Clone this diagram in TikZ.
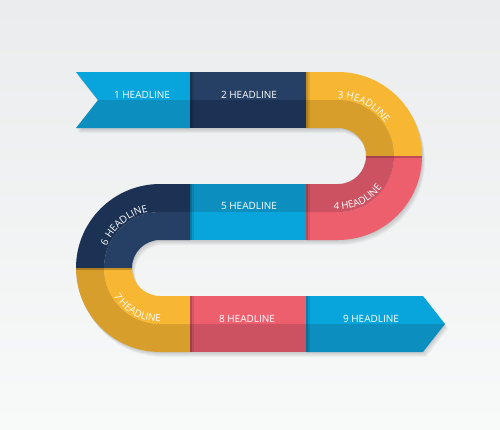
\documentclass[tikz,border=0pt]{standalone}
\usepackage{fontspec}
\setmainfont{Open Sans}
\usepackage{tikz}
\usetikzlibrary{positioning, calc, decorations.text}
\usepackage{xcolor}
\definecolor{bgtop}{HTML}{EAECED}
\definecolor{bgbot}{HTML}{F8F9F9}
\definecolor{blueL}{HTML}{08A5DC}
\definecolor{blueD}{HTML}{0C8FBE}
\definecolor{navyL}{HTML}{263F64}
\definecolor{navyD}{HTML}{1B3254}
\definecolor{yelL}{HTML}{F8B733}
\definecolor{yelD}{HTML}{D89E2B}
\definecolor{redL}{HTML}{EE5F6E}
\definecolor{redD}{HTML}{CC5261}
\newcommand{\hlfont}{\fontsize{10}{12}\selectfont}
\tikzset{headline/.style={text=white, font=\hlfont, inner sep=0pt}}
\tikzset{curved/.style={decorate, decoration={text along path, text align=center, text color=white, text={|\hlfont|#1}}}}
\tikzset{seam/.style={fill=black, opacity=#1}}

\begin{document}
\begin{tikzpicture}[x=1pt, y=1pt]
  \useasboundingbox (0,0) rectangle (500,-429);
  \shade[top color=bgtop, bottom color=bgbot] (0,0) rectangle (500,-429);
  \coordinate (rc) at (338,-156);
  \coordinate (lc) at (160,-268);

  % soft shadow under the ribbon
  \foreach \d in {1,...,5}
    \fill[black, opacity=0.035, shift={(0.6*\d,-\d)}]
      (76,-72) -- (338,-72) arc (90:-90:84) -- (160,-240) arc (90:270:28)
      -- (423,-296) -- (445,-324) -- (423,-352) -- (160,-352) arc (270:90:84)
      -- (338,-184) arc (-90:90:28) -- (76,-128) -- (98,-100) -- cycle;

  % 1
  \fill[blueL] (76,-72) -- (190,-72) -- (190,-100) -- (98,-100) -- cycle;
  \fill[blueD] (98,-100) -- (190,-100) -- (190,-128) -- (76,-128) -- cycle;
  % 2
  \fill[navyL] (190,-72) rectangle (306,-100);
  \fill[navyD] (190,-100) rectangle (306,-128);
  % 3
  \fill[yelL] (306,-72) -- (338,-72) arc (90:0:84) -- (394,-156) arc (0:90:56) -- (306,-100) -- cycle;
  \fill[yelD] (306,-100) -- (338,-100) arc (90:0:56) -- (366,-156) arc (0:90:28) -- (306,-128) -- cycle;
  % 4
  \fill[redL] (422,-156) arc (0:-90:84) -- (306,-240) -- (306,-212) -- (338,-212) arc (-90:0:56) -- cycle;
  \fill[redD] (394,-156) arc (0:-90:56) -- (306,-212) -- (306,-184) -- (338,-184) arc (-90:0:28) -- cycle;
  % 5
  \fill[blueD] (190,-184) rectangle (306,-212);
  \fill[blueL] (190,-212) rectangle (306,-240);
  % 6
  \fill[navyD] (190,-184) -- (160,-184) arc (90:180:84) -- (104,-268) arc (180:90:56) -- (190,-212) -- cycle;
  \fill[navyL] (190,-212) -- (160,-212) arc (90:180:56) -- (132,-268) arc (180:90:28) -- (190,-240) -- cycle;
  % 7
  \fill[yelD] (76,-268) arc (180:270:84) -- (190,-352) -- (190,-324) -- (160,-324) arc (270:180:56) -- cycle;
  \fill[yelL] (104,-268) arc (180:270:56) -- (190,-324) -- (190,-296) -- (160,-296) arc (270:180:28) -- cycle;
  % 8
  \fill[redL] (190,-296) rectangle (306,-324);
  \fill[redD] (190,-324) rectangle (306,-352);
  % 9
  \fill[blueL] (306,-296) -- (423,-296) -- (445,-324) -- (306,-324) -- cycle;
  \fill[blueD] (306,-324) -- (445,-324) -- (423,-352) -- (306,-352) -- cycle;

  % seams
  \foreach \x in {190,306}
    \foreach \y in {-72,-184,-296} {
      \fill[seam=0.22] (\x,\y) rectangle ++(1.5,-56);
      \fill[seam=0.09] (\x+1.5,\y) rectangle ++(2,-56);
    }
  \fill[seam=0.2] (366,-156) rectangle (422,-157.5);
  \fill[seam=0.2] (76,-268) rectangle (132,-269.5);

  % labels
  \node[headline, anchor=base] (h1) at (142,-98.3) {1 HEADLINE};
  \node[headline, anchor=base] (h2) at (249,-98.3) {2 HEADLINE};
  \node[headline, anchor=base] (h5) at (249,-209.5) {5 HEADLINE};
  \node[headline, anchor=base] (h8) at (247,-322) {8 HEADLINE};
  \node[headline, anchor=base] (h9) at (371,-322) {9 HEADLINE};
  \path[curved={3 HEADLINE}] ($(rc)+(120:57.5)$) arc (120:5:57.5);
  \path[curved={4 HEADLINE}] ($(rc)+(-125:54)$) arc (-125:-5:54);
  \path[curved={6 HEADLINE}] ($(lc)+(190:57.5)$) arc (190:70:57.5);
  \path[curved={7 HEADLINE}] ($(lc)+(-179:54)$) arc (-179:-59:54);
\end{tikzpicture}
\end{document}
